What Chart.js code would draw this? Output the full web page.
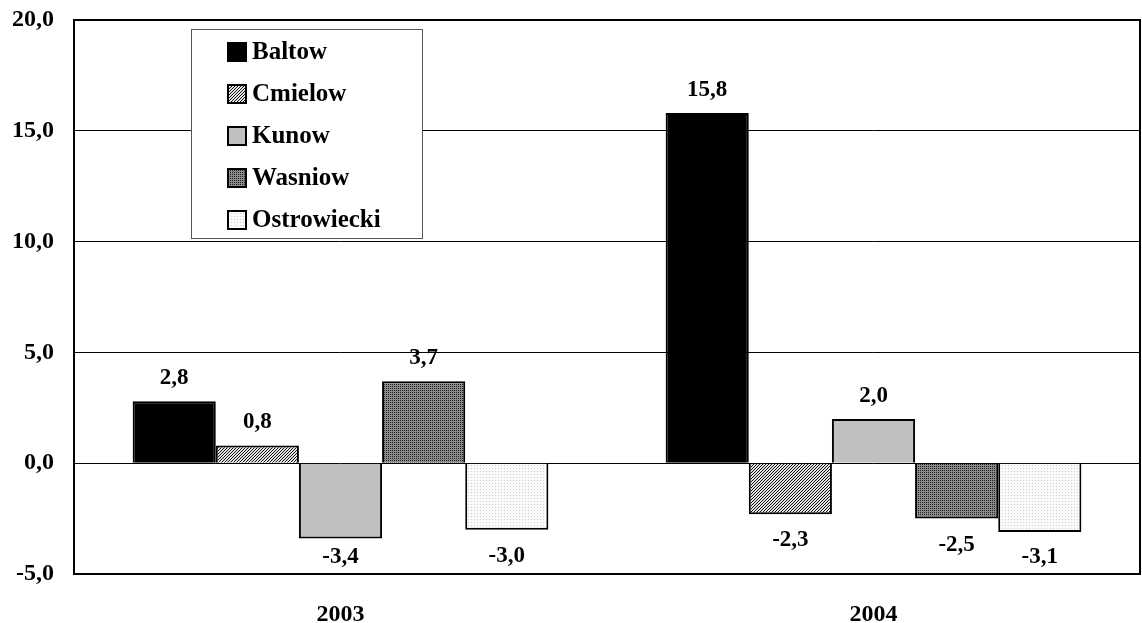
<!DOCTYPE html>
<html>
<head>
<meta charset="utf-8">
<script src="https://cdn.jsdelivr.net/npm/chart.js@4/dist/chart.umd.min.js"></script>
<style>
  html,body{margin:0;padding:0;background:#fff;}
  #wrap{width:1142px;height:623px;position:relative;}
</style>
</head>
<body>
<div id="wrap"><canvas id="c" width="1142" height="623"></canvas></div>
<script>
// data
const years = ["2003", "2004"];
const baltow = [2.8, 15.8];
const cmielow = [0.8, -2.3];
const kunow = [-3.4, 2.0];
const wasniow = [3.7, -2.5];
const ostrowiecki = [-3.0, -3.1];
const yTicks = [-5, 0, 5, 10, 15, 20];

const FONT = "'Liberation Serif', 'Times New Roman', serif";
const fmt = v => v.toFixed(1).replace(".", ",");

// fill patterns
function tile(size, draw){
  const c = document.createElement("canvas");
  c.width = size; c.height = size;
  const x = c.getContext("2d");
  draw(x, size);
  return x.createPattern(c, "repeat");
}
const hatch = tile(3, (x, s)=>{
  x.fillStyle = "#e2e2e2"; x.fillRect(0,0,s,s);
  x.fillStyle = "#111";
  for(let i=0;i<s;i++){ x.fillRect(s-1-i, i, 1, 1); }
});
const grid = tile(2, (x, s)=>{
  x.fillStyle = "#8a8a8a"; x.fillRect(0,0,s,s);
  x.fillStyle = "#222"; x.fillRect(0,0,1,1);
});
const dots = tile(3, (x, s)=>{
  x.fillStyle = "#fbfbfb"; x.fillRect(0,0,s,s);
  x.fillStyle = "#cfcfcf"; x.fillRect(0,0,1,1);
});

const series = [
  { label: "Baltow", data: baltow, bg: "#000" },
  { label: "Cmielow", data: cmielow, bg: hatch },
  { label: "Kunow", data: kunow, bg: "#c0c0c0" },
  { label: "Wasniow", data: wasniow, bg: grid },
  { label: "Ostrowiecki", data: ostrowiecki, bg: dots }
];

// value labels above/below bars
const valueLabels = {
  id: "valueLabels",
  afterDatasetsDraw(chart){
    const ctx = chart.ctx, a = chart.chartArea;
    ctx.save();
    ctx.font = "bold 23px " + FONT;
    ctx.fillStyle = "#000";
    ctx.textAlign = "center";
    ctx.textBaseline = "alphabetic";
    chart.data.datasets.forEach((ds, i)=>{
      chart.getDatasetMeta(i).data.forEach((bar, j)=>{
        const v = ds.data[j];
        if(v >= 0) ctx.fillText(fmt(v), bar.x, bar.y - 17);
        else ctx.fillText(fmt(v), bar.x, Math.min(bar.y + 32, a.bottom - 11));
      });
    });
    ctx.restore();
  }
};

// frame + legend box inside plot
const frameLegend = {
  id: "frameLegend",
  afterDraw(chart){
    const ctx = chart.ctx, a = chart.chartArea;
    ctx.save();
    ctx.strokeStyle = "#000"; ctx.lineWidth = 2;
    ctx.strokeRect(a.left, a.top, a.right - a.left, a.bottom - a.top);

    const bx = 191, by = 29, bw = 231, bh = 209;
    ctx.fillStyle = "#fff"; ctx.fillRect(bx, by, bw, bh);
    ctx.strokeStyle = "#555"; ctx.lineWidth = 1;
    ctx.strokeRect(bx + 0.5, by + 0.5, bw, bh);

    ctx.font = "bold 25px " + FONT;
    ctx.textBaseline = "middle"; ctx.textAlign = "left";
    chart.data.datasets.forEach((ds, i)=>{
      const cy = 52 + i * 42;
      ctx.fillStyle = ds.backgroundColor;
      ctx.fillRect(228, cy - 9, 18, 18);
      ctx.strokeStyle = "#000"; ctx.lineWidth = 2;
      ctx.strokeRect(228, cy - 9, 18, 18);
      ctx.fillStyle = "#000";
      ctx.fillText(ds.label, 252, cy + 1);
    });
    ctx.restore();
  }
};

new Chart(document.getElementById("c"), {
  type: "bar",
  data: {
    labels: years,
    datasets: series.map(s=>({
      label: s.label, data: s.data,
      backgroundColor: s.bg, borderColor: "#000", borderWidth: 2,
      categoryPercentage: 0.78, barPercentage: 1.0
    }))
  },
  options: {
    responsive: false, animation: false,
    layout: { padding: { top: 20, right: 2, left: 0, bottom: 0 } },
    plugins: { legend: { display: false }, tooltip: { enabled: false } },
    scales: {
      x: {
        grid: { display: false, drawTicks: false },
        border: { display: false },
        ticks: { color: "#000", padding: 26, font: { family: FONT, size: 24, weight: "bold" } },
        afterFit: s => { s.height = 49; s.paddingLeft = 0; s.paddingRight = 0; }
      },
      y: {
        min: -5, max: 20,
        afterBuildTicks: s => { s.ticks = yTicks.map(v=>({ value: v })); },
        grid: {
          drawTicks: false,
          color: c => (c.tick && (c.tick.value === 20 || c.tick.value === -5)) ? "rgba(0,0,0,0)" : "#000",
          lineWidth: 1
        },
        border: { display: false },
        ticks: { color: "#000", padding: 20, callback: v => fmt(v), font: { family: FONT, size: 24, weight: "bold" } },
        afterFit: s => { s.width = 74; s.paddingTop = 0; s.paddingBottom = 0; }
      }
    }
  },
  plugins: [valueLabels, frameLegend]
});
</script>
</body>
</html>
